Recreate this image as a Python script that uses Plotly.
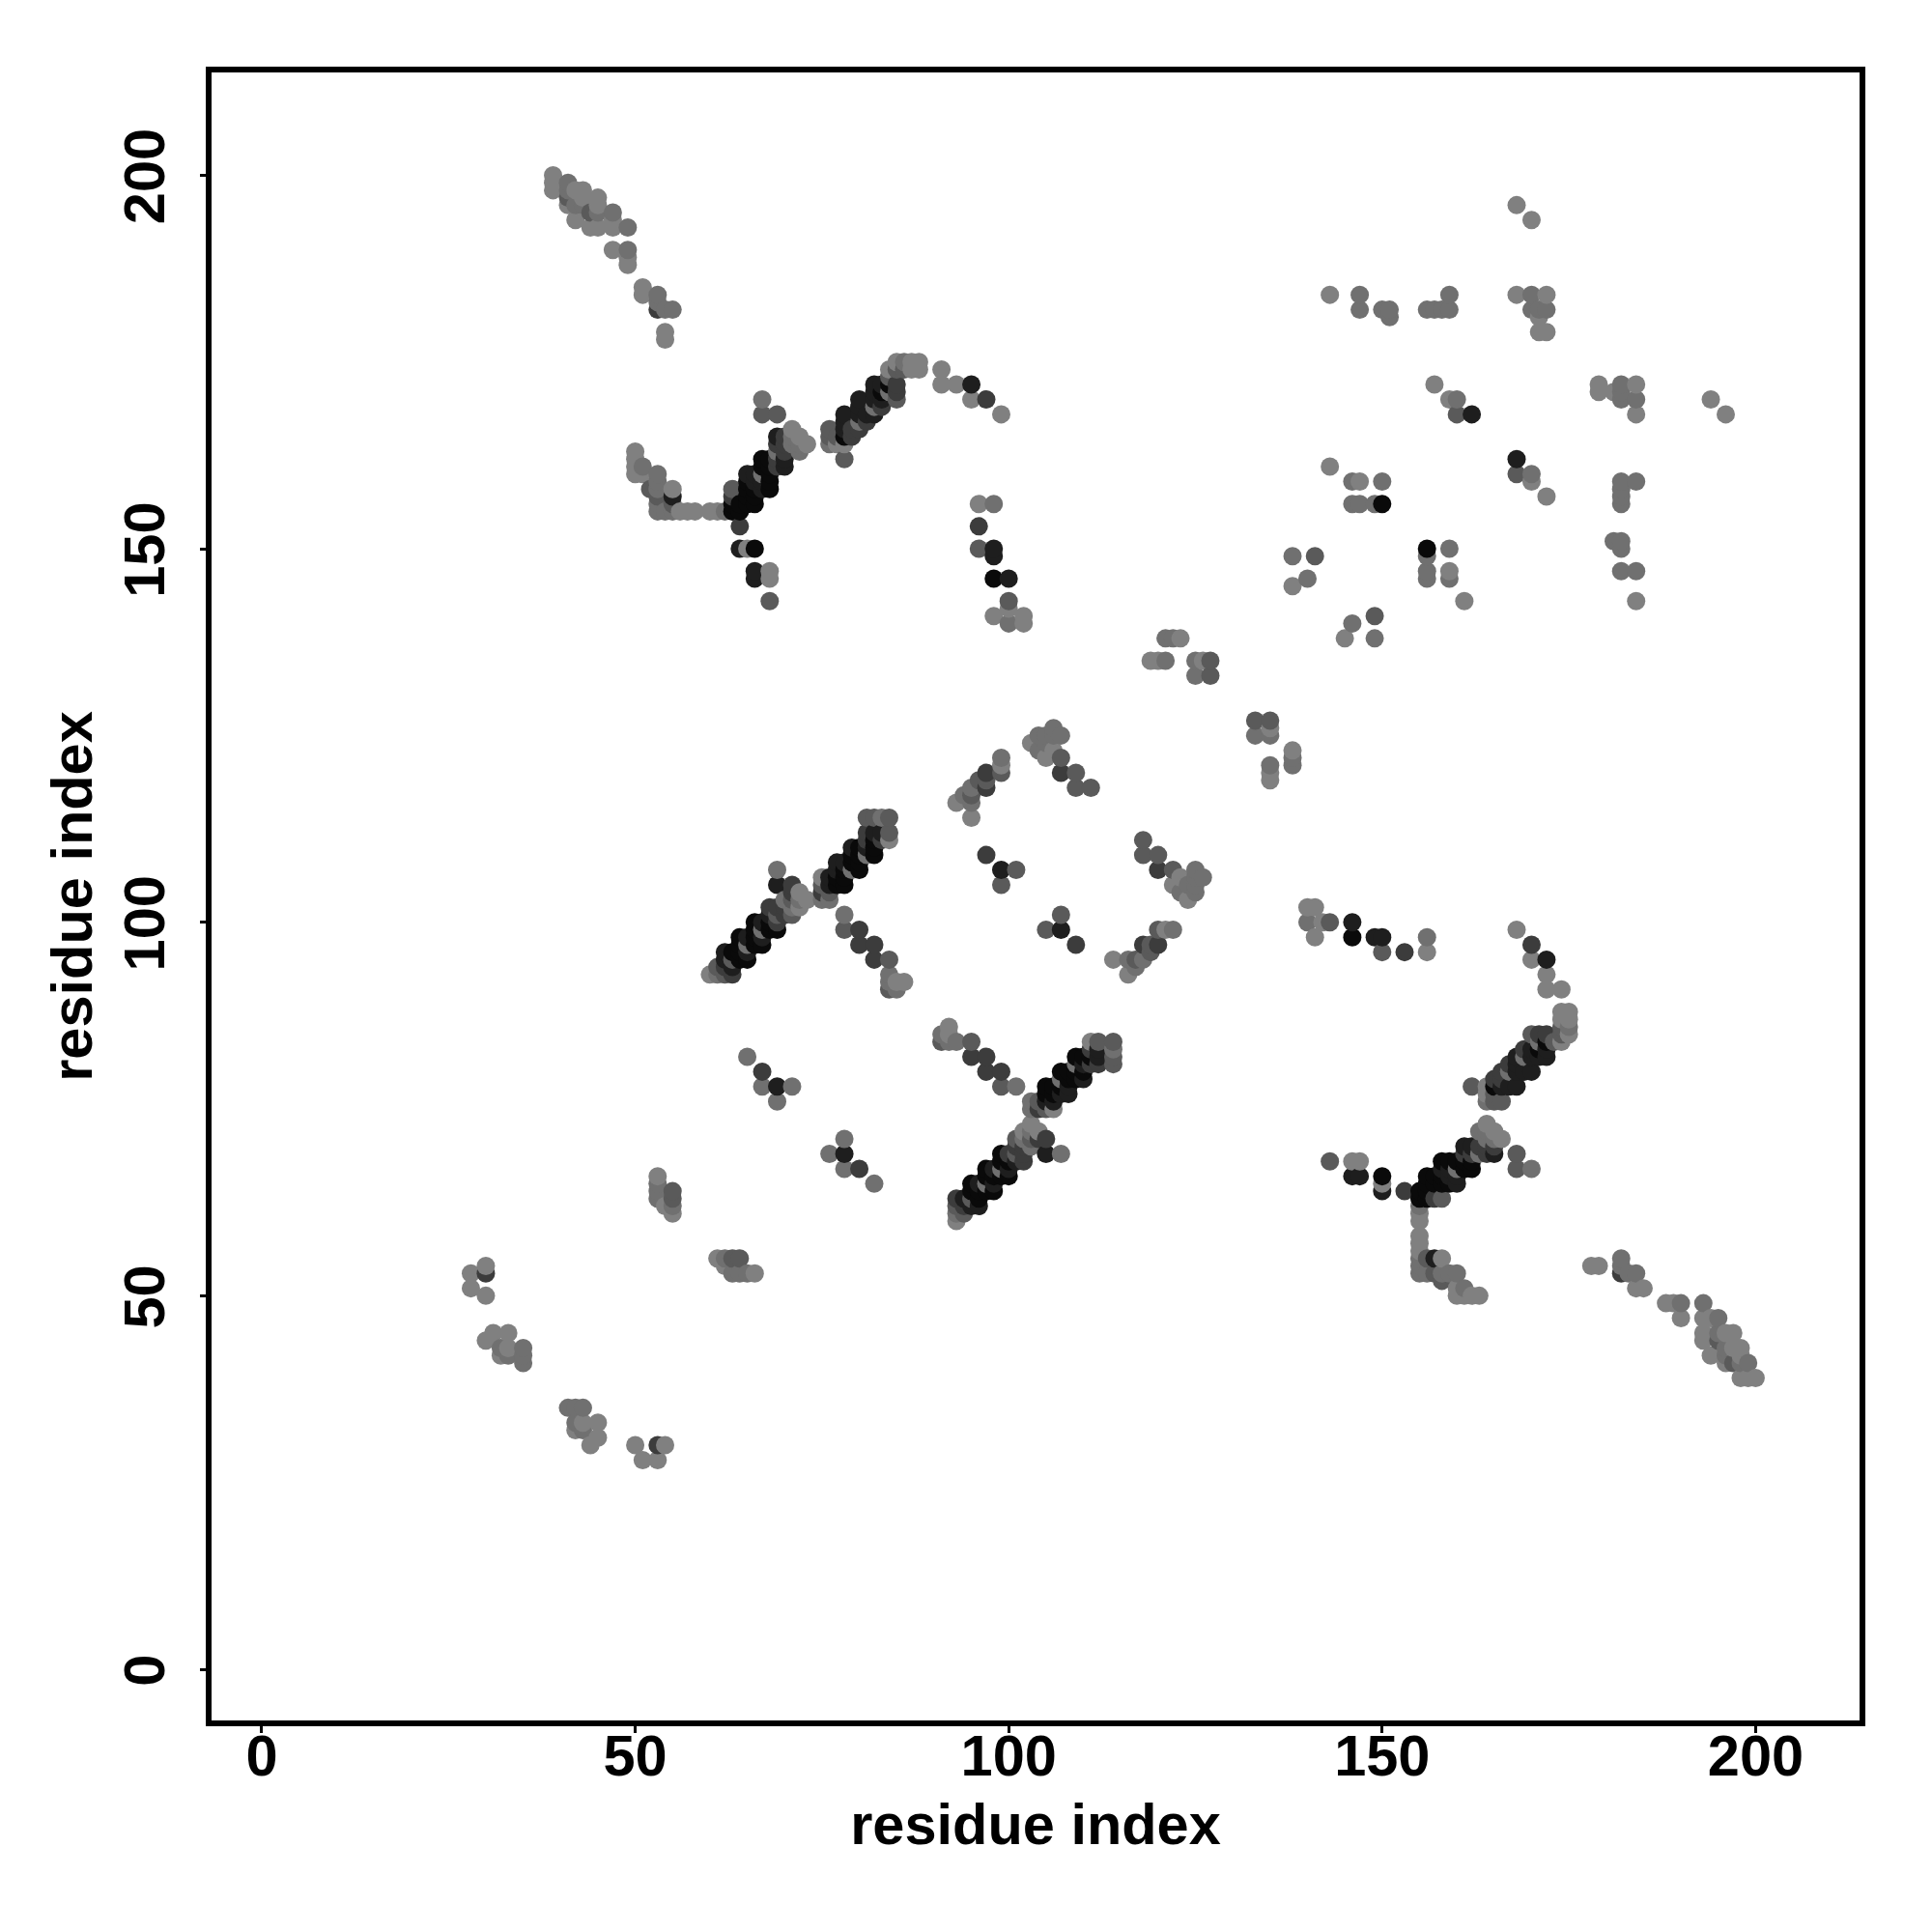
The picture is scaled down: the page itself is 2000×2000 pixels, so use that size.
import plotly.graph_objects as go

tick_values = [0, 50, 100, 150, 200]
axis_label = "residue index"

# residue contacts (i < j), grouped by grey shade; the map is symmetric
shade_128 = [
    (39,200),(39,199),(39,198),(42,198),(43,198),(43,197),(45,197),(45,196),(42,194),(44,193),(45,193),
    (47,194),(47,193),(47,190),(49,189),(49,188),(51,185),(51,184),(54,179),(54,178),(41,196),
    (50,163),(50,162),(50,161),(50,160),(51,160),(55,158),(56,155),(57,155),(58,155),(60,155),(61,155),
    (71,166),(72,165),(73,164),(78,164),(84,174),(85,175),(87,175),(87,174),(88,175),(88,174),
    (91,174),(91,172),(93,172),(95,170),(99,168),(96,156),(98,141),(100,142),(102,141),(102,140),
    (65,150),(68,147),(68,146),(60,93),(72,104),(72,102),(73,103),(75,106),(84,111),(85,92),(86,92),
    (71,78),(93,116),(95,114),(99,121),(103,124),(106,123),(105,122),
    (119,135),(120,135),(121,135),(123,138),(126,135),(125,133),(135,126),(135,120),(135,119),(138,123),
    (143,184),(168,196),(170,194),(168,184),(172,184),(171,181),(171,179),(172,179),(157,172),(159,170),
    (143,161),(147,159),(170,159),(172,157),(138,145),(30,50),(28,51),(28,53),(30,54),(31,45),(30,44),
    (33,45),(32,42),(33,43),(51,28),(53,28),(50,30),(54,30),(53,66),(54,62),(55,61),(77,164),
]
shade_112 = [
    (41,199),(41,198),(49,193),(49,190),(53,184),(55,182),(54,182),(42,196),(43,196),(45,195),(47,195),(53,183),
    (51,161),(53,160),(53,159),(53,158),(53,156),(53,155),(54,155),(55,155),(62,155),(76,164),
    (71,165),(71,164),(72,164),(72,163),(67,160),(69,163),(80,167),(82,169),(84,171),(86,175),
    (98,156),(100,140),(67,170),(69,107),(65,97),(67,99),(70,103),(71,102),(72,103),(75,103),(76,103),
    (79,107),(81,109),(83,114),(61,93),(78,101),(84,93),(84,92),(85,91),(65,82),(67,78),(69,76),
    (78,71),(76,69),(78,67),(82,65),(94,117),(95,118),(95,116),(99,122),
    (104,125),(104,123),(105,125),(105,124),(106,126),(106,125),(107,125),
    (121,138),(122,138),(125,135),(135,127),(133,125),(135,125),(135,121),(138,122),(138,121),
    (147,184),(147,182),(150,182),(151,182),(151,181),(156,182),(157,182),(158,182),(159,182),(159,184),
    (170,184),(170,182),(172,182),(171,182),(160,170),(146,159),(150,159),(146,156),(147,156),(149,156),
    (138,149),(140,146),(32,43),(33,42),(35,43),(35,42),(35,41),(53,65),(53,64),(53,63),(55,62),
]
shade_90 = [
    (44,195),(41,197),(52,158),(53,157),(55,156),(63,158),(76,166),(76,165),(77,165),(78,162),(85,174),(86,174),
    (85,170),(84,173),(96,150),(100,143),(67,168),(69,168),(68,143),(71,103),(71,101),(69,101),
    (75,105),(76,104),(81,114),(82,114),(84,114),(84,112),(61,94),(62,93),(63,95),(78,99),(84,95),(84,91),
    (95,117),(96,119),(97,119),(99,120),(101,107),(99,105),(107,101),(105,99),(107,122),(109,120),(109,118),(111,118),
    (127,135),(127,133),(133,127),(141,149),(160,168),(55,64),(55,63),
]
shade_60 = [
    (53,182),(63,157),(64,153),(69,164),(69,162),(69,161),(70,165),(70,164),(70,163),
    (79,166),(79,165),(80,166),(81,167),(83,169),(85,172),(85,171),(97,170),(96,153),
    (62,94),(69,102),(69,100),(70,102),(70,101),(71,105),(71,104),(68,102),(75,104),(81,112),(81,111),(83,111),
    (63,93),(80,99),(80,97),(82,97),(82,95),(67,80),(80,67),(97,120),(97,118),(97,109),(109,97),(107,120),
    (30,53),
]
shade_30 = [
    (55,157),(65,160),(66,160),(66,159),(67,159),(67,158),(69,165),(70,162),(70,161),(78,168),(78,167),(78,166),
    (80,170),(80,169),(80,168),(81,168),(82,172),(82,171),(82,170),(82,168),(83,172),(83,170),
    (95,172),(98,150),(98,149),(100,146),(64,150),(66,147),(66,146),(162,168),
    (62,96),(62,95),(63,94),(65,98),(65,96),(67,100),(67,98),(68,101),(69,105),
    (76,106),(76,105),(77,108),(77,107),(78,108),(79,110),(81,110),(82,112),(83,112),
    (69,78),(78,69),(99,107),(107,99),
]
shade_10 = [
    (63,156),(63,155),(64,155),(64,156),(65,156),(65,157),(66,156),(66,157),(65,158),(66,158),(65,159),
    (67,162),(67,161),(68,162),(68,161),(68,160),(68,159),(68,158),(78,165),(83,171),(84,172),(66,150),(98,146),
    (63,96),(64,98),(64,97),(64,96),(64,95),(65,95),(66,100),(66,99),(66,98),(66,97),(67,97),(68,100),(68,99),(69,99),
    (77,106),(77,105),(78,107),(78,106),(78,105),(79,109),(79,108),(80,110),(80,109),(80,108),(80,107),
    (82,111),(82,110),(82,109),(150,156),
]
shades = {128: shade_128, 112: shade_112, 90: shade_90, 60: shade_60, 30: shade_30, 10: shade_10}

points = {}
for level, pairs in shades.items():
    for i, j in pairs:
        a, b = min(i, j), max(i, j)
        points[(a, b)] = level
        points[(b, a)] = level
ordered = sorted(points)
xs = [p[0] for p in ordered]
ys = [p[1] for p in ordered]
colors = [f"rgb({points[p]},{points[p]},{points[p]})" for p in ordered]

font = dict(family="Liberation Sans", size=59.5, color="black", weight=700)

fig = go.Figure(go.Scatter(
    x=xs, y=ys, mode="markers",
    marker=dict(size=19, color=colors, line=dict(width=0)),
    hoverinfo="skip",
))
axis = dict(
    tickmode="array", tickvals=tick_values, ticktext=[str(v) for v in tick_values],
    ticks="outside", ticklen=6.5, tickwidth=3, tickcolor="black",
    showline=True, linewidth=6, linecolor="black", mirror=True,
    showgrid=False, zeroline=False, tickfont=font,
    title=dict(text=axis_label, font=font),
)
fig.update_layout(
    width=2000, height=2000, autosize=False,
    margin=dict(l=211, r=83, t=67, b=227, pad=0),
    paper_bgcolor="white", plot_bgcolor="white", showlegend=False,
    xaxis=dict(axis, range=[-6.722, 213.912], ticklabelstandoff=-27),
    yaxis=dict(axis, range=[-6.852, 213.762], tickangle=-90, ticklabelstandoff=13, ticklabelshift=10),
)
fig.layout.xaxis.title.standoff = 19
fig.layout.yaxis.title.standoff = 3
fig.write_html("out.html")
